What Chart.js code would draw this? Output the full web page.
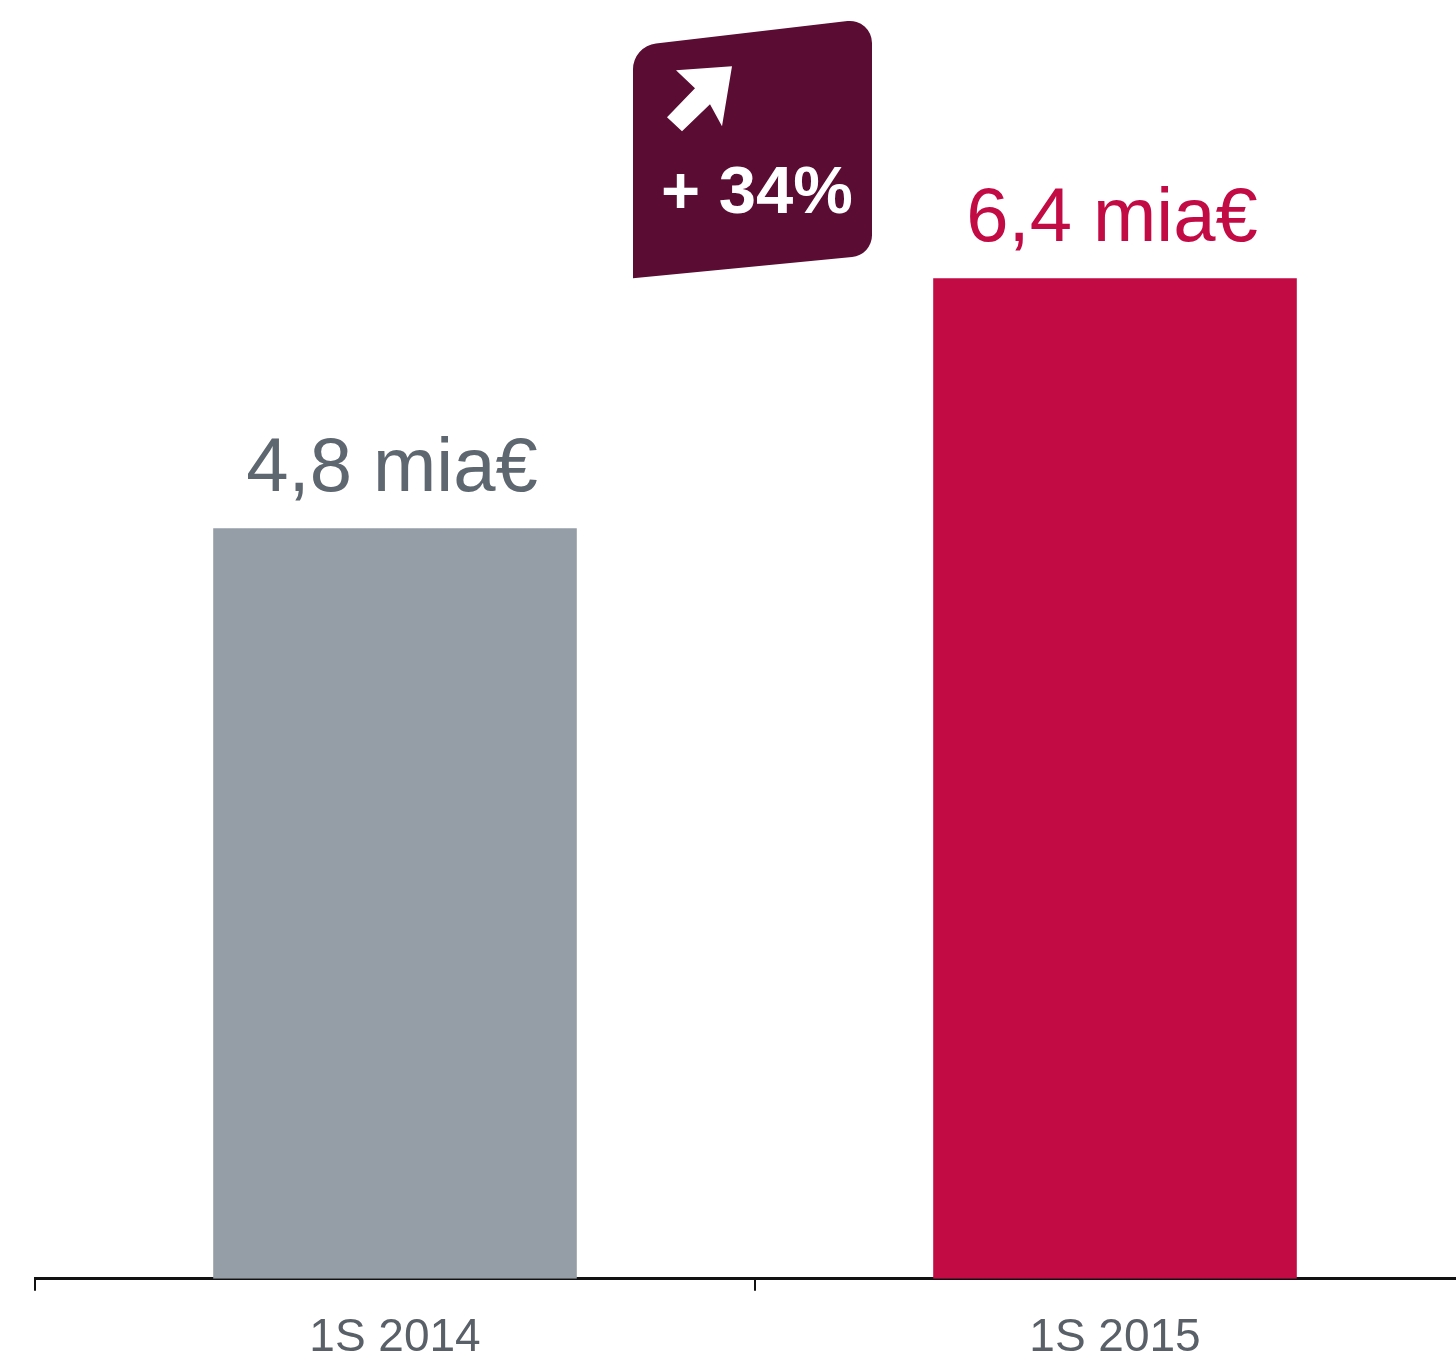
<!DOCTYPE html>
<html>
<head>
<meta charset="utf-8">
<script src="https://cdn.jsdelivr.net/npm/chart.js@4"></script>
<style>
  html, body { margin: 0; padding: 0; background: #fff; overflow: hidden; }
  #wrap { width: 1456px; height: 1360px; overflow: hidden; }
</style>
</head>
<body>
<div id="wrap"><canvas id="barChart" width="1500" height="1360"></canvas></div>
<script>
// datos del gráfico
const categorias = ['1S 2014', '1S 2015'];
const valores = [4.8, 6.4];
const etiquetas = ['4,8 mia€', '6,4 mia€'];
const colores = ['#959ea7', '#c20a45'];
const coloresTexto = ['#5e6770', '#c20a45'];
const variacion = '+ 34%';

// etiquetas encima de las barras
const valueLabels = {
  id: 'valueLabels',
  afterDatasetsDraw(chart) {
    const ctx = chart.ctx;
    const meta = chart.getDatasetMeta(0);
    ctx.save();
    ctx.font = '76px "Liberation Sans", Arial, sans-serif';
    ctx.textAlign = 'center';
    ctx.textBaseline = 'alphabetic';
    meta.data.forEach((bar, i) => {
      ctx.fillStyle = coloresTexto[i];
      ctx.fillText(etiquetas[i], bar.x - 3, bar.y - 37);
    });
    ctx.restore();
  }
};

// recuadro con la variación
const badge = {
  id: 'badge',
  afterDraw(chart) {
    const ctx = chart.ctx;
    const x = chart.scales.x;
    const y = chart.scales.y;
    const cx = (x.getPixelForValue(0) + x.getPixelForValue(1)) / 2;
    const l = cx - 122, r = cx + 117;
    const bl = y.getPixelForValue(valores[1]);
    const tl = bl - 232, tr = bl - 260, br = bl - 23;

    ctx.save();
    ctx.fillStyle = '#5b0c33';
    ctx.beginPath();
    ctx.moveTo(l, bl);
    ctx.arcTo(l, tl, r, tr, 26);
    ctx.arcTo(r, tr, r, br, 22);
    ctx.arcTo(r, br, l, bl, 22);
    ctx.lineTo(l, bl);
    ctx.closePath();
    ctx.fill();

    // flecha
    const ax = l, ay = tr;
    const pts = [[99, 48], [43, 52], [62, 70], [34, 99], [49, 113], [77, 86], [89, 108]];
    ctx.fillStyle = '#ffffff';
    ctx.beginPath();
    pts.forEach((p, i) => {
      if (i === 0) ctx.moveTo(ax + p[0], ay + p[1]);
      else ctx.lineTo(ax + p[0], ay + p[1]);
    });
    ctx.closePath();
    ctx.fill();

    ctx.font = 'bold 67px "Liberation Sans", Arial, sans-serif';
    ctx.textAlign = 'center';
    ctx.textBaseline = 'alphabetic';
    ctx.fillText(variacion, cx + 2, ay + 195);
    ctx.restore();
  }
};

document.addEventListener('DOMContentLoaded', () => {
  try {
    const ctx = document.getElementById('barChart').getContext('2d');
    new Chart(ctx, {
      type: 'bar',
      data: {
        labels: categorias,
        datasets: [{
          data: valores,
          backgroundColor: colores,
          borderWidth: 0,
          barPercentage: 0.505,
          categoryPercentage: 1
        }]
      },
      options: {
        responsive: false,
        animation: false,
        layout: { padding: { left: 35, right: 25, top: 28, bottom: -26 } },
        plugins: {
          legend: { display: false },
          tooltip: { enabled: false }
        },
        scales: {
          x: {
            grid: {
              display: true,
              drawOnChartArea: false,
              tickLength: 12,
              color: '#111',
              lineWidth: 2
            },
            border: { display: true, color: '#111', width: 3 },
            ticks: {
              padding: 20,
              color: '#5a6068',
              font: { family: '"Liberation Sans", Arial, sans-serif', size: 46 }
            }
          },
          y: {
            display: false,
            min: 0,
            max: 8
          }
        }
      },
      plugins: [valueLabels, badge]
    });
  } catch (error) {
    console.error('Error al generar el gráfico:', error);
  }
});
</script>
</body>
</html>
